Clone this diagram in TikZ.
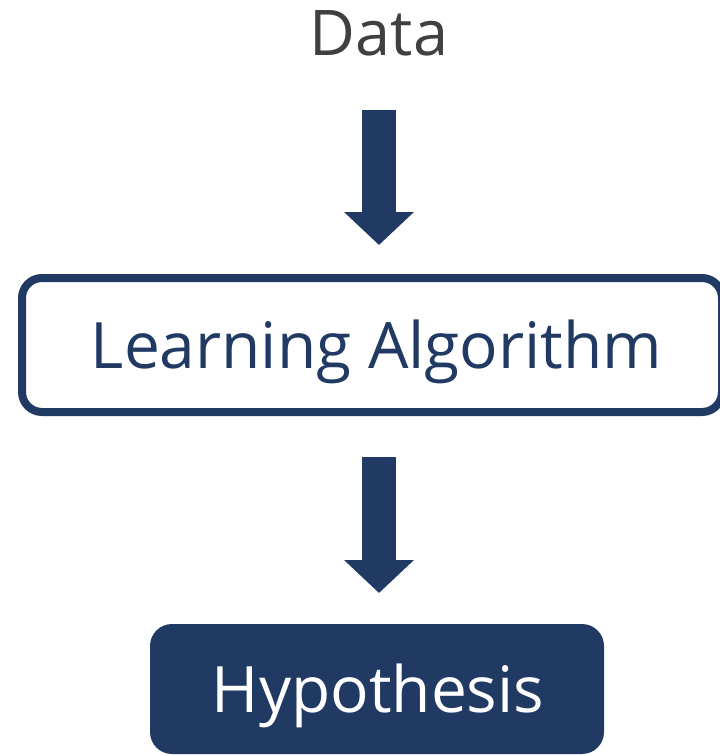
\documentclass[tikz,border=0pt]{standalone}
\usepackage{fontspec}
\setmainfont{Open Sans}
\usetikzlibrary{arrows.meta}
\definecolor{navy}{RGB}{33,58,100}
\definecolor{txtgray}{RGB}{64,64,64}
\tikzset{
  bigarrow/.style={draw=navy, line width=34pt, -{Triangle[width=68pt,length=33pt]}},
  outlinebox/.style={draw=navy, line width=8pt, rounded corners=20pt, fill=white,
    minimum width=700pt, minimum height=134pt, inner sep=0pt, text=navy,
    font=\fontsize{64}{68}\selectfont, text height=46pt, text depth=0pt},
  filledbox/.style={fill=navy, rounded corners=22pt, outer sep=0pt,
    minimum width=454pt, minimum height=130pt, inner sep=0pt, text=white,
    font=\fontsize{64}{68}\selectfont, text height=47pt, text depth=0pt},
}
\begin{document}
\begin{tikzpicture}[x=1pt,y=-1pt]
\useasboundingbox (0,0) rectangle (720,755);
\node[anchor=base, inner sep=0pt, text=txtgray, font=\fontsize{63}{66}\selectfont] (data) at (379,55) {Data};
\node[outlinebox] (learn) at (372,345) {\hspace*{9pt}Learning Algorithm};
\node[filledbox] (hyp) at (377,689) {\hspace*{2pt}Hypothesis};
\draw[bigarrow, shorten <=54pt, shorten >=29pt] (data.south) -- (learn.north -| data.south);
\draw[bigarrow, shorten <=41pt, shorten >=31pt] (learn.south -| data.south) -- (hyp.north -| data.south);
\end{tikzpicture}
\end{document}
